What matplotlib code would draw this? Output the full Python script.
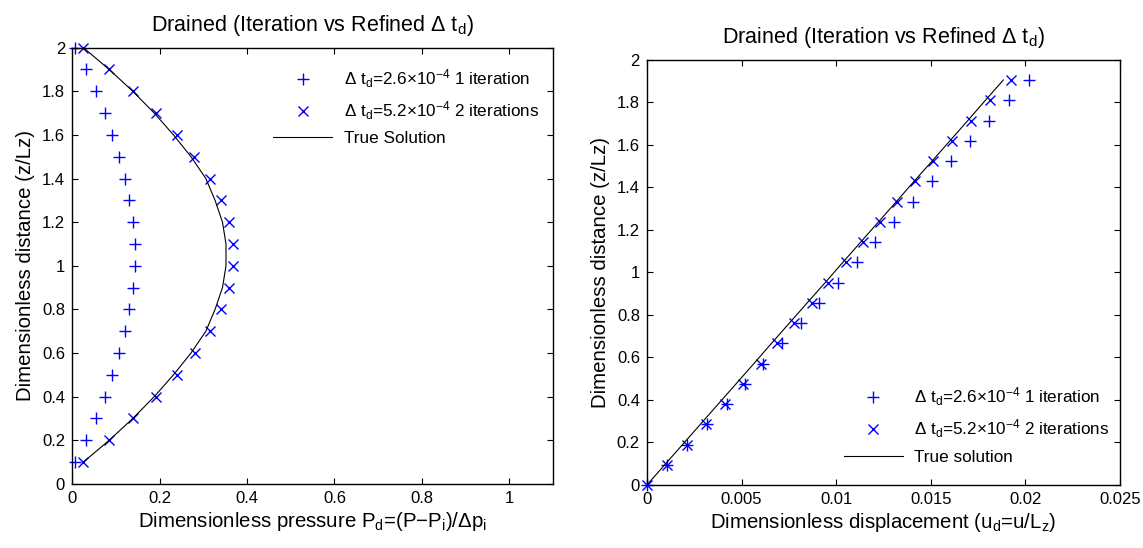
import matplotlib
matplotlib.use('Agg')
import matplotlib.pyplot as plt

plt.rcParams['font.family'] = ['Liberation Sans', 'DejaVu Sans']
plt.rcParams['mathtext.fontset'] = 'custom'
plt.rcParams['mathtext.rm'] = 'Liberation Sans'
plt.rcParams['mathtext.it'] = 'Liberation Sans'
plt.rcParams['mathtext.bf'] = 'Liberation Sans'

# left: pressure profile
z_p = [2.0, 1.9, 1.8, 1.7, 1.6, 1.5, 1.4, 1.3, 1.2, 1.1,
       1.0, 0.9, 0.8, 0.7, 0.6, 0.5, 0.4, 0.3, 0.2, 0.1]
p_1iter = [0.007, 0.031, 0.054, 0.075, 0.092, 0.108, 0.122, 0.131, 0.139, 0.143,
           0.143, 0.139, 0.131, 0.122, 0.108, 0.092, 0.075, 0.054, 0.031, 0.007]
p_2iter = [0.026, 0.085, 0.140, 0.192, 0.240, 0.280, 0.315, 0.341, 0.359, 0.368,
           0.368, 0.359, 0.341, 0.315, 0.281, 0.240, 0.192, 0.140, 0.085, 0.026]
p_true = [0.026, 0.085, 0.139, 0.188, 0.232, 0.272, 0.306, 0.327, 0.344, 0.352,
          0.352, 0.344, 0.327, 0.306, 0.272, 0.232, 0.188, 0.139, 0.085, 0.026]

# right: displacement profile
z_u = [0.0, 0.095, 0.190, 0.286, 0.381, 0.476, 0.571, 0.667, 0.762, 0.857, 0.952,
       1.048, 1.143, 1.238, 1.333, 1.429, 1.524, 1.619, 1.714, 1.810, 1.905]
u_1iter = [0.0, 0.00106, 0.00213, 0.00318, 0.00422, 0.00518, 0.00615, 0.00712, 0.00814,
           0.00909, 0.0101, 0.01108, 0.01207, 0.01305, 0.01404, 0.01506, 0.01605,
           0.01707, 0.01809, 0.01913, 0.02021]
u_2iter = [0.0, 0.00104, 0.0021, 0.00312, 0.00414, 0.00506, 0.00601, 0.00689, 0.00779,
           0.0087, 0.00958, 0.0105, 0.0114, 0.01232, 0.01323, 0.01416, 0.01513,
           0.01614, 0.01711, 0.01813, 0.01922]
u_true = [0.0, 0.00094, 0.00188, 0.00283, 0.00377, 0.00471, 0.00565, 0.00659, 0.00753,
          0.00847, 0.00942, 0.01036, 0.0113, 0.01224, 0.01318, 0.01412, 0.01507,
          0.01601, 0.01695, 0.01789, 0.01883]

lab1 = r'$\Delta$ t$_\mathrm{d}$=2.6$\times$10$^{-4}$ 1 iteration'
lab2 = r'$\Delta$ t$_\mathrm{d}$=5.2$\times$10$^{-4}$ 2 iterations'
title = r'Drained (Iteration vs Refined $\Delta$ t$_\mathrm{d}$)'
blue = '#0000ff'

fig = plt.figure(figsize=(11.43, 5.48), dpi=100)
ax1 = fig.add_axes([0.063, 0.117, 0.421, 0.796])
ax2 = fig.add_axes([0.566, 0.115, 0.414, 0.776])

ax1.plot(p_1iter, z_p, '+', color=blue, ms=9, mew=1.0, label=lab1, clip_on=False)
ax1.plot(p_2iter, z_p, 'x', color=blue, ms=6.5, mew=1.0, label=lab2, clip_on=False)
ax1.plot(p_true, z_p, '-', color='k', lw=0.8, label='True Solution')
ax1.set_xlim(0, 1.1)
ax1.set_ylim(0, 2)
ax1.set_xticks([0, 0.2, 0.4, 0.6, 0.8, 1])
ax1.set_xticklabels(['0', '0.2', '0.4', '0.6', '0.8', '1'])
ax1.set_yticks([0, 0.2, 0.4, 0.6, 0.8, 1, 1.2, 1.4, 1.6, 1.8, 2])
ax1.set_yticklabels(['0', '0.2', '0.4', '0.6', '0.8', '1', '1.2', '1.4', '1.6', '1.8', '2'])
ax1.set_xlabel(r'Dimensionless pressure P$_\mathrm{d}$=(P$-$P$_\mathrm{i}$)/$\Delta$p$_\mathrm{i}$',
               fontsize=14.7, labelpad=3)
ax1.set_ylabel('Dimensionless distance (z/Lz)', fontsize=14.7, labelpad=5)
ax1.set_title(title, fontsize=15.5, pad=12)
ax1.legend(loc='upper left', bbox_to_anchor=(0.385, 0.99), frameon=False,
           fontsize=12.3, numpoints=1, handlelength=3.5, handletextpad=0.65,
           labelspacing=0.55)

ax2.plot(u_1iter, z_u, '+', color=blue, ms=9, mew=1.0, label=lab1, clip_on=False)
ax2.plot(u_2iter, z_u, 'x', color=blue, ms=6.5, mew=1.0, label=lab2, clip_on=False)
ax2.plot(u_true, z_u, '-', color='k', lw=0.8, label='True solution')
ax2.set_xlim(0, 0.025)
ax2.set_ylim(0, 2)
ax2.set_xticks([0, 0.005, 0.01, 0.015, 0.02, 0.025])
ax2.set_xticklabels(['0', '0.005', '0.01', '0.015', '0.02', '0.025'])
ax2.set_yticks([0, 0.2, 0.4, 0.6, 0.8, 1, 1.2, 1.4, 1.6, 1.8, 2])
ax2.set_yticklabels(['0', '0.2', '0.4', '0.6', '0.8', '1', '1.2', '1.4', '1.6', '1.8', '2'])
ax2.set_xlabel(r'Dimensionless displacement (u$_\mathrm{d}$=u/L$_\mathrm{z}$)', fontsize=14.7, labelpad=3)
ax2.set_ylabel('Dimensionless distance (z/Lz)', fontsize=14.7, labelpad=5)
ax2.set_title(title, fontsize=15.5, pad=12)
ax2.legend(loc='upper left', bbox_to_anchor=(0.383, 0.27), frameon=False,
           fontsize=12.3, numpoints=1, handlelength=3.5, handletextpad=0.65,
           labelspacing=0.55)

for ax in (ax1, ax2):
    ax.tick_params(direction='in', top=True, right=True, length=4.5, width=0.8,
                   labelsize=12, pad=5)
    for s in ax.spines.values():
        s.set_linewidth(1.0)

fig.savefig('out.png', dpi=100)
